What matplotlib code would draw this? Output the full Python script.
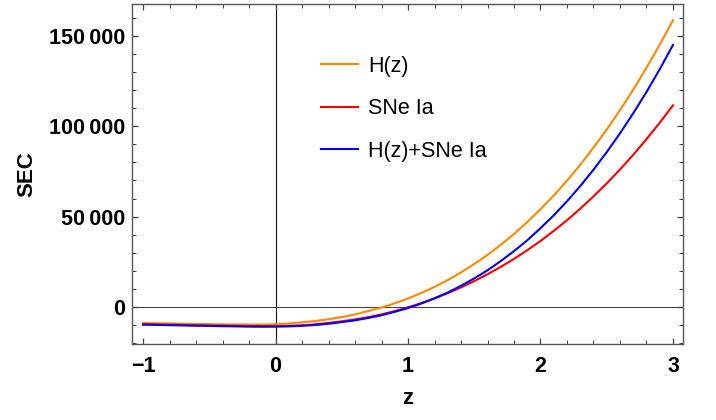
import numpy as np
import matplotlib
matplotlib.use("Agg")
import matplotlib.pyplot as plt
from matplotlib.ticker import MultipleLocator, FuncFormatter

plt.rcParams['font.family'] = ['Liberation Sans', 'DejaVu Sans']

# redshift samples and strong energy condition curves for the three fits
z = np.round(np.arange(-1, 3.001, 0.1), 1)

sec_hz = [-8900, -9050, -9200, -9350, -9450, -9550, -9650, -9700, -9750, -9750, -9600,
          -9150, -8500, -7800, -6800, -5600, -4100, -2300, -300, 2000, 4700,
          7700, 11100, 14900, 19100, 23800, 28800, 34400, 40400, 47000, 54100,
          61700, 69900, 78700, 88200, 98200, 108900, 120300, 132400, 145200, 158700]

sec_sne = [-9500, -9650, -9800, -9950, -10100, -10200, -10350, -10450, -10550, -10600, -10600,
           -10450, -10150, -9600, -8850, -7950, -6900, -5650, -4150, -2300, -200,
           2100, 4700, 7600, 10800, 14300, 18100, 22200, 26600, 31400, 36500,
           42100, 48000, 54400, 61200, 68400, 76100, 84200, 92900, 102000, 111600]

sec_joint = [-9800, -9950, -10100, -10250, -10400, -10500, -10650, -10750, -10900, -10950, -10900,
             -10750, -10450, -10000, -9300, -8400, -7400, -6100, -4600, -2700, -600,
             1900, 4800, 8000, 11700, 15800, 20300, 25400, 30900, 36900, 43600,
             50700, 58500, 66900, 76000, 85700, 96100, 107200, 119000, 131600, 145000]

labels = ['H(z)', 'SNe Ia', 'H(z)+SNe Ia']
colors = ['#ff8800', '#ff0000', '#0000ff']

fig = plt.figure(figsize=(7.16, 4.2), dpi=100)
ax = fig.add_axes([0.1844, 0.181, 0.7695, 0.8095])

ax.axhline(0, color='#444444', lw=0.8, zorder=1)
ax.axvline(0, color='#111111', lw=0.8, zorder=1)

for vals, lab, c in zip([sec_hz, sec_sne, sec_joint], labels, colors):
    ax.plot(z, vals, color=c, lw=1.5, label=lab, zorder=3)

ax.set_xlim(-1.083, 3.0755)
ax.set_ylim(-20500, 167700)

ax.xaxis.set_major_locator(MultipleLocator(1))
ax.xaxis.set_minor_locator(MultipleLocator(0.2))
ax.yaxis.set_major_locator(MultipleLocator(50000))
ax.yaxis.set_minor_locator(MultipleLocator(10000))
ax.yaxis.set_major_formatter(FuncFormatter(
    lambda v, p: '0' if v == 0 else f'{int(v):,}'.replace(',', '\u2009')))
ax.xaxis.set_major_formatter(FuncFormatter(
    lambda v, p: f'{int(round(v))}'.replace('-', '\u2212')))

for s in ax.spines.values():
    s.set_color('#555555')
    s.set_linewidth(1.0)
ax.tick_params(which='both', direction='in', top=True, right=True, color='#444444')
ax.tick_params(which='major', length=4.5, width=0.9)
ax.tick_params(which='minor', length=2.8, width=0.7)
ax.tick_params(axis='x', which='major', pad=8.5)
ax.tick_params(axis='y', which='major', pad=5)
for t in ax.get_xticklabels() + ax.get_yticklabels():
    t.set_fontsize(15.5)
    t.set_fontweight('bold')

ax.set_xlabel('z', fontsize=16, fontweight='bold')
ax.set_ylabel('SEC', fontsize=16, fontweight='bold')
ax.xaxis.set_label_coords(0.5, -0.129)
ax.yaxis.set_label_coords(-0.171, 0.5)

ax.legend(loc='upper left', bbox_to_anchor=(0.343, 0.848), frameon=False,
          fontsize=15.5, handlelength=1.7, handletextpad=0.5, labelspacing=1.0,
          borderpad=0, borderaxespad=0)

fig.savefig('out.png')
